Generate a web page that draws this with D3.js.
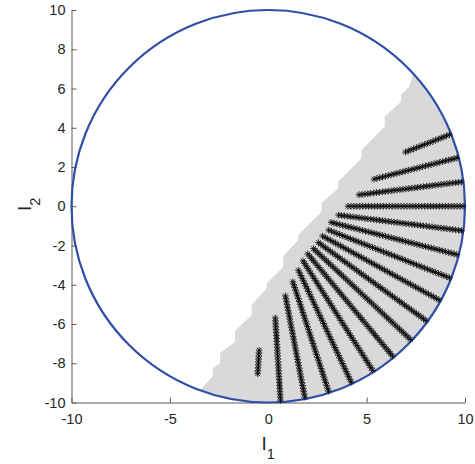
<!DOCTYPE html>
<html>
<head>
<meta charset="utf-8">
<script src="https://cdn.jsdelivr.net/npm/d3@7"></script>
<style>
  body { margin: 0; background: #fff; }
  svg text { font-family: "Liberation Sans", Arial, sans-serif; fill: #262626; }
</style>
</head>
<body>
<script>
//tick values
var xTicks = [-10, -5, 0, 5, 10];
var yTicks = [-10, -8, -6, -4, -2, 0, 2, 4, 6, 8, 10];

//staircase edge of the grey region, top to bottom (ends lie on the circle)
var stairX = [7.28, 7.16, 6.74, 6.74, 5.92, 5.92, 4.74, 4.74, 3.55, 3.55, 2.71, 2.71, 1.52, 1.52,
    0.76, 0.76, -0.08, -0.08, -0.84, -0.84, -1.69, -1.69, -2.45, -2.45, -2.82, -2.82, -3.47];
var stairY = [6.69, 6.09, 5.67, 5.33, 4.56, 4.06, 2.87, 2.45, 1.25, 0.92, 0.15, -0.28, -1.46, -1.72,
    -2.53, -3.08, -3.92, -4.16, -5.03, -5.54, -6.35, -6.90, -7.49, -8.00, -8.25, -8.68, -9.36];

//radial rows of markers: angle (deg), first and last radius
var rayAngles = [21.6, 14.4, 7.2, 0, -7.2, -14.4, -21.6, -28.8, -36, -43.2, -50.4, -57.6, -64.8, -72, -79.2, -86.4, -93.6];
var rayStart = [7.5, 5.5, 4.7, 4.1, 3.65, 3.35, 3.25, 3.2, 3.15, 3.1, 3.1, 3.25, 3.6, 4.05, 4.7, 5.7, 7.35];
var rayEnd = [10, 10, 10, 10, 10, 10, 10, 10, 10, 10, 10, 10, 10, 10, 10, 10, 8.45];
//radial sample positions along every row
var radii = [3.0, 3.15, 3.3, 3.45, 3.6, 3.75, 3.9, 4.05, 4.2, 4.35, 4.5, 4.65, 4.8, 4.95, 5.1, 5.25,
    5.4, 5.55, 5.7, 5.85, 6.0, 6.15, 6.3, 6.45, 6.6, 6.75, 6.9, 7.05, 7.2, 7.35, 7.5, 7.65, 7.8, 7.95,
    8.1, 8.25, 8.4, 8.55, 8.7, 8.85, 9.0, 9.15, 9.3, 9.45, 9.6, 9.75, 9.9];

var width = 475,
    height = 464;

var x = d3.scaleLinear().domain([-10, 10]).range([71.5, 465]);
var y = d3.scaleLinear().domain([-10, 10]).range([402.5, 10]);

var svg = d3.select("body")
    .append("svg")
    .attr("width", width)
    .attr("height", height);

//axes (ticks point inward, no box), labels use a plain hyphen
var fmt = function(d){ return String(d); };
var xAxis = d3.axisBottom(x).tickValues(xTicks).tickFormat(fmt).tickSizeInner(-5).tickSizeOuter(0).tickPadding(11);
var yAxis = d3.axisLeft(y).tickValues(yTicks).tickFormat(fmt).tickSizeInner(-5).tickSizeOuter(0).tickPadding(6);

var gx = svg.append("g")
    .attr("transform", "translate(0," + y(-10) + ")")
    .call(xAxis);
var gy = svg.append("g")
    .attr("transform", "translate(" + x(-10) + ",0)")
    .call(yAxis);

[gx, gy].forEach(function(g){
    g.selectAll("path, line").attr("stroke", "#5a5a5a").attr("stroke-width", 1);
    g.selectAll("text").style("font-size", "14.5px").attr("fill", "#262626");
});

//grey region: staircase then circle arc back to the top
var rx = x(10) - x(0),
    ry = y(0) - y(10);
var last = stairX.length - 1;
//put the two end points exactly on the circle
function onCircle(px, py){
    var a = Math.atan2(py, px);
    return [x(10 * Math.cos(a)), y(10 * Math.sin(a))];
}
var p0 = onCircle(stairX[0], stairY[0]),
    p1 = onCircle(stairX[last], stairY[last]);
var d = "M" + p0[0] + "," + p0[1];
for (var i = 1; i < last; i++){
    d += "L" + x(stairX[i]) + "," + y(stairY[i]);
}
d += "L" + p1[0] + "," + p1[1];
d += "A" + rx + "," + ry + " 0 0 0 " + p0[0] + "," + p0[1] + "Z";

svg.append("path")
    .attr("d", d)
    .attr("fill", "#d9d9d9")
    .attr("stroke", "none");

//circle of radius 10
svg.append("ellipse")
    .attr("cx", x(0))
    .attr("cy", y(0))
    .attr("rx", rx)
    .attr("ry", ry)
    .attr("fill", "none")
    .attr("stroke", "#2f4fa7")
    .attr("stroke-width", 2.2);

//asterisk markers
var pts = [];
rayAngles.forEach(function(a, k){
    var t = a * Math.PI / 180;
    radii.forEach(function(r){
        if (r >= rayStart[k] - 0.07 && r <= rayEnd[k] + 0.12){
            pts.push([r * Math.cos(t), r * Math.sin(t)]);
        }
    });
});

var star = "M-3.3,0H3.3M0,-3.3V3.3M-2.4,-2.4L2.4,2.4M-2.4,2.4L2.4,-2.4";
svg.append("g")
    .selectAll("path")
    .data(pts)
    .enter()
    .append("path")
    .attr("d", star)
    .attr("transform", function(p){ return "translate(" + x(p[0]) + "," + y(p[1]) + ")"; })
    .attr("fill", "none")
    .attr("stroke", "#000")
    .attr("stroke-width", 0.8);

//axis labels
var xl = svg.append("text")
    .attr("x", x(0))
    .attr("y", 450)
    .attr("text-anchor", "middle")
    .style("font-size", "19px")
    .text("I");
xl.append("tspan").attr("dy", 9).style("font-size", "14.5px").text("1");

var yl = svg.append("text")
    .attr("transform", "translate(31," + (y(0) - 2) + ") rotate(-90)")
    .attr("text-anchor", "middle")
    .style("font-size", "19px")
    .text("I");
yl.append("tspan").attr("dy", 9).style("font-size", "14.5px").text("2");
</script>
</body>
</html>
